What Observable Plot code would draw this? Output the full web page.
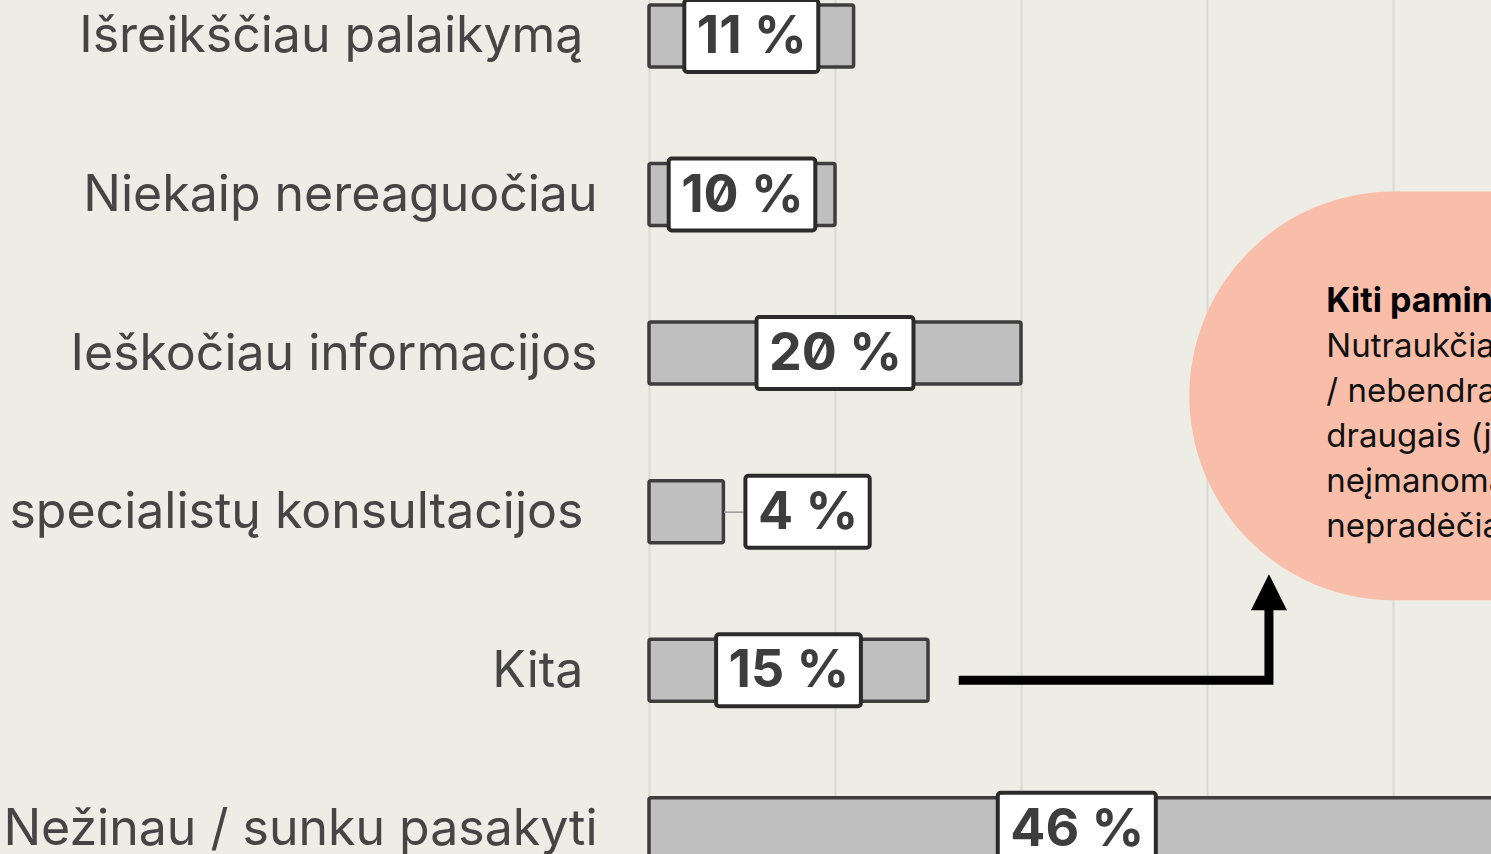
<!DOCTYPE html>
<html><head><meta charset="utf-8">
<script src="https://cdn.jsdelivr.net/npm/d3@7"></script>
<script src="https://cdn.jsdelivr.net/npm/@observablehq/plot@0.6"></script>
<style>
html,body{margin:0;padding:0;background:#edece5;overflow:hidden}
#chart svg{display:block}
</style></head><body><div id="chart"></div>
<script>
// ---- data ----
const categories = ["Išreikščiau palaikymą\u00a0","Niekaip nereaguočiau","Ieškočiau informacijos","specialistų konsultacijos\u00a0","Kita\u00a0","Nežinau / sunku pasakyti"];
const values = [11, 10, 20, 4, 15, 46];
const xTicks = [0, 10, 20, 30, 40, 50];
const noteTitle = "Kiti paminėjo:";
const noteLines = ["Nutraukčiau ryšius","/ nebendraučiau su","draugais (jei tai","neįmanoma)","nepradėčiau"];
const noteFrom = "Kita\u00a0";

// ---- styles ----
const W = 1491, H = 854;
const xRange = [649, 1579];
const labelFont = "Inter, 'Open Sans', sans-serif";
const valueFont = "Inter, 'Liberation Sans', sans-serif";
const valueSize = 52;
const pxPerUnit = (xRange[1]-xRange[0]) / (xTicks[xTicks.length-1]-xTicks[0]);

const ctx = document.createElement("canvas").getContext("2d");
ctx.font = `700 ${valueSize}px Inter`;
const padX = 12;

const data = categories.map((c, i) => {
  const label = values[i] + " %";
  const tw = ctx.measureText(label).width;
  const half = (tw/2 + padX) / pxPerUnit;
  const barPx = values[i] * pxPerUnit;
  const outside = barPx <= tw + 2*padX + 20;
  const cx = outside ? values[i] + 22/pxPerUnit + half : values[i]/2;
  return {category: c, value: values[i], label, cx, bx1: cx - half, bx2: cx + half, outside};
});

const chart = Plot.plot({
  width: W, height: H,
  marginTop: 0, marginBottom: 0, marginLeft: 0, marginRight: 0,
  style: {background: "#edece5", overflow: "hidden"},
  x: {domain: [xTicks[0], xTicks[xTicks.length-1]], range: xRange, axis: null},
  y: {domain: categories, range: [5, 859.8], paddingInner: 0.609, paddingOuter: 0, round: false, axis: null},
  marks: [
    Plot.ruleX(xTicks, {stroke: "#d9d9d6", strokeWidth: 2}),
    Plot.barX(data, {x: "value", y: "category", fill: "#bfbfbf", stroke: "#3d3d3d", strokeWidth: 3.5, rx: 2}),
    Plot.link(data.filter(d => d.outside), {x1: "value", x2: "bx1", y1: "category", y2: "category", stroke: "#9a9a9a", strokeWidth: 1.5}),
    Plot.barX(data, {x1: "bx1", x2: "bx2", y: "category", fill: "white", stroke: "#2b2b2b", strokeWidth: 4, rx: 3, insetTop: -5, insetBottom: -5}),
    Plot.text(data, {x: "cx", y: "category", text: "label", fontSize: valueSize, fontWeight: 700, fontFamily: valueFont, fontVariant: "slashed-zero", fill: "#3d3d3d"}),
    Plot.text(data, {x: 0, y: "category", text: "category", textAnchor: "end", dx: -52, fontSize: 50, fontFamily: labelFont, fill: "#454545"})
  ]
});
document.getElementById("chart").appendChild(chart);

// ---- annotation (bubble + arrow), positioned with the chart's scales ----
const xs = chart.scale("x"), ys = chart.scale("y");
const svg = d3.select(chart);
const yc = c => ys.apply(c) + ys.bandwidth/2;
const bubbleTop = yc(categories[1]) - 3;
const bubbleBot = yc(categories[4]) - 70;
const r = (bubbleBot - bubbleTop)/2;
const bx = xs.apply(29.05);
const bubble = svg.insert("g", "g[aria-label='bar']");
bubble.append("rect").attr("x", bx).attr("y", bubbleTop).attr("width", 900).attr("height", bubbleBot-bubbleTop)
  .attr("rx", r).attr("fill", "#f9bea9");
const t = svg.append("g").attr("font-family", "Inter, sans-serif").attr("text-anchor", "start").attr("fill", "#111");
t.append("text").attr("x", bx + 137).attr("y", bubbleTop + 120).attr("font-size", 34).attr("font-weight", 700).attr("fill", "#000").text(noteTitle);
noteLines.forEach((l, i) => t.append("text").attr("x", bx + 137).attr("y", bubbleTop + 165 + i*45).attr("font-size", 33).text(l));

const ay = yc(noteFrom) + 10;
const ax0 = xs.apply(16.65), ax1 = xs.apply(33.33);
const tipY = bubbleBot - 26;
const arrow = svg.append("g");
arrow.append("path").attr("d", `M${ax0},${ay}H${ax1}V${tipY+30}`).attr("fill", "none").attr("stroke", "#000").attr("stroke-width", 9);
arrow.append("path").attr("d", `M${ax1-18},${tipY+36}L${ax1},${tipY}L${ax1+18},${tipY+36}Z`).attr("fill", "#000");
</script>
</body></html>
